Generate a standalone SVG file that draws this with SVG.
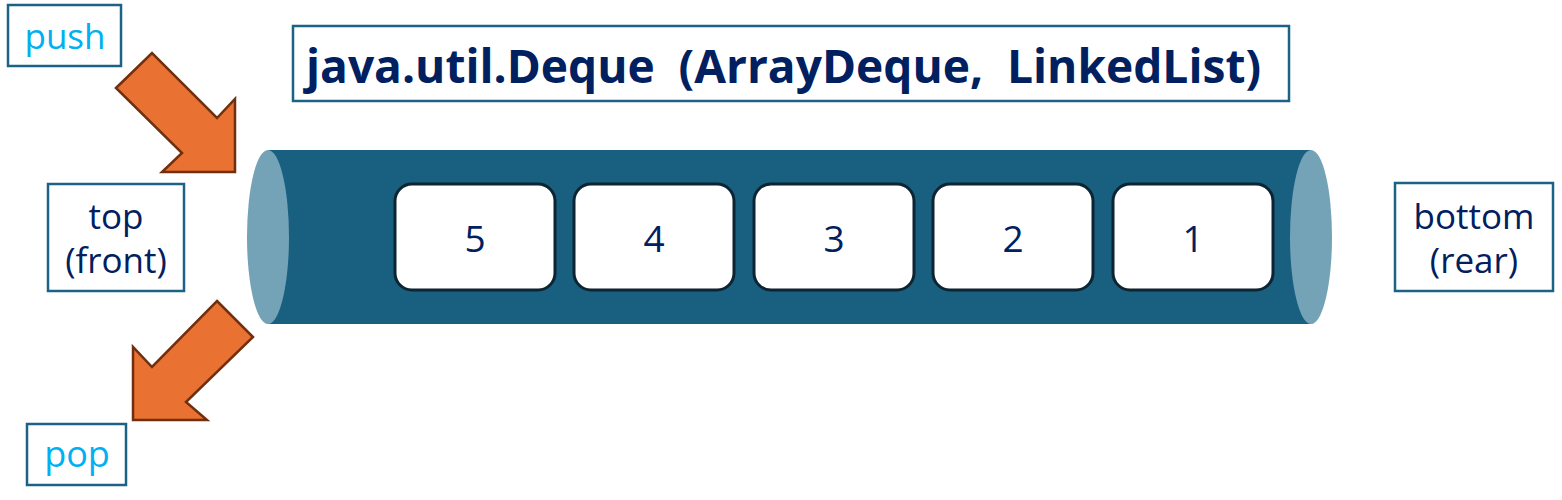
<svg xmlns="http://www.w3.org/2000/svg" width="1562" height="500" viewBox="0 0 1562 500">
<style>
.lbl{fill:#fff;stroke:#1B6285;stroke-width:2.5}
.nav{fill:#002060;font-family:"Open Sans","Noto Sans","Liberation Sans",sans-serif}
.cyan{fill:#00B0F0;font-family:"Open Sans","Noto Sans","Liberation Sans",sans-serif}
.item{fill:#fff;stroke:#0D2533;stroke-width:3}
.arrow{fill:#E97132;stroke:#70300F;stroke-width:2.5;stroke-linejoin:miter}
.cap{fill:#74A3B8}
</style>
<rect width="1562" height="500" fill="#fff"/>
<g id="title">
<rect class="lbl" x="293" y="26" width="996" height="75"/>
<text class="nav" x="306" y="83" font-size="46" font-weight="bold" textLength="955" lengthAdjust="spacingAndGlyphs" xml:space="preserve">java.util.Deque  (ArrayDeque,  LinkedList)</text>
</g>
<g id="deque">
<rect x="268" y="150" width="1043" height="174" fill="#185F80"/>
<ellipse class="cap" cx="268" cy="237" rx="21" ry="87"/>
<ellipse class="cap" cx="1311" cy="237" rx="21" ry="87"/>
</g>
<g id="item5"><rect class="item" x="395" y="184" width="160" height="106" rx="17"/><text class="nav" x="475" y="252" font-size="37" text-anchor="middle">5</text></g>
<g id="item4"><rect class="item" x="574" y="184" width="160" height="106" rx="17"/><text class="nav" x="654" y="252" font-size="37" text-anchor="middle">4</text></g>
<g id="item3"><rect class="item" x="754" y="184" width="160" height="106" rx="17"/><text class="nav" x="834" y="252" font-size="37" text-anchor="middle">3</text></g>
<g id="item2"><rect class="item" x="933" y="184" width="160" height="106" rx="17"/><text class="nav" x="1013" y="252" font-size="37" text-anchor="middle">2</text></g>
<g id="item1"><rect class="item" x="1113" y="184" width="160" height="106" rx="17"/><text class="nav" x="1193" y="252" font-size="37" text-anchor="middle">1</text></g>
<g id="push">
<rect class="lbl" x="8" y="5" width="113" height="61"/>
<text class="cyan" x="65" y="49" font-size="35" text-anchor="middle">push</text>
</g>
<g id="pop">
<rect class="lbl" x="27" y="424" width="99" height="61"/>
<text class="cyan" x="77" y="467" font-size="36" text-anchor="middle">pop</text>
</g>
<g id="top">
<rect class="lbl" x="48" y="184" width="136" height="107"/>
<text class="nav" x="116" y="229" font-size="35" text-anchor="middle">top</text>
<text class="nav" x="116" y="273" font-size="35" text-anchor="middle">(front)</text>
</g>
<g id="bottom">
<rect class="lbl" x="1395" y="183" width="158" height="108"/>
<text class="nav" x="1474" y="229" font-size="35" text-anchor="middle">bottom</text>
<text class="nav" x="1474" y="273" font-size="35" text-anchor="middle">(rear)</text>
</g>
<g id="connectors">
<polygon class="arrow" points="116,88 152,53 217,118 235,99 235,172 162,172 182,153"/>
<polygon class="arrow" points="217,301 253,337 186,402 207,420 133,420 133,347 152,367"/>
</g>
</svg>
